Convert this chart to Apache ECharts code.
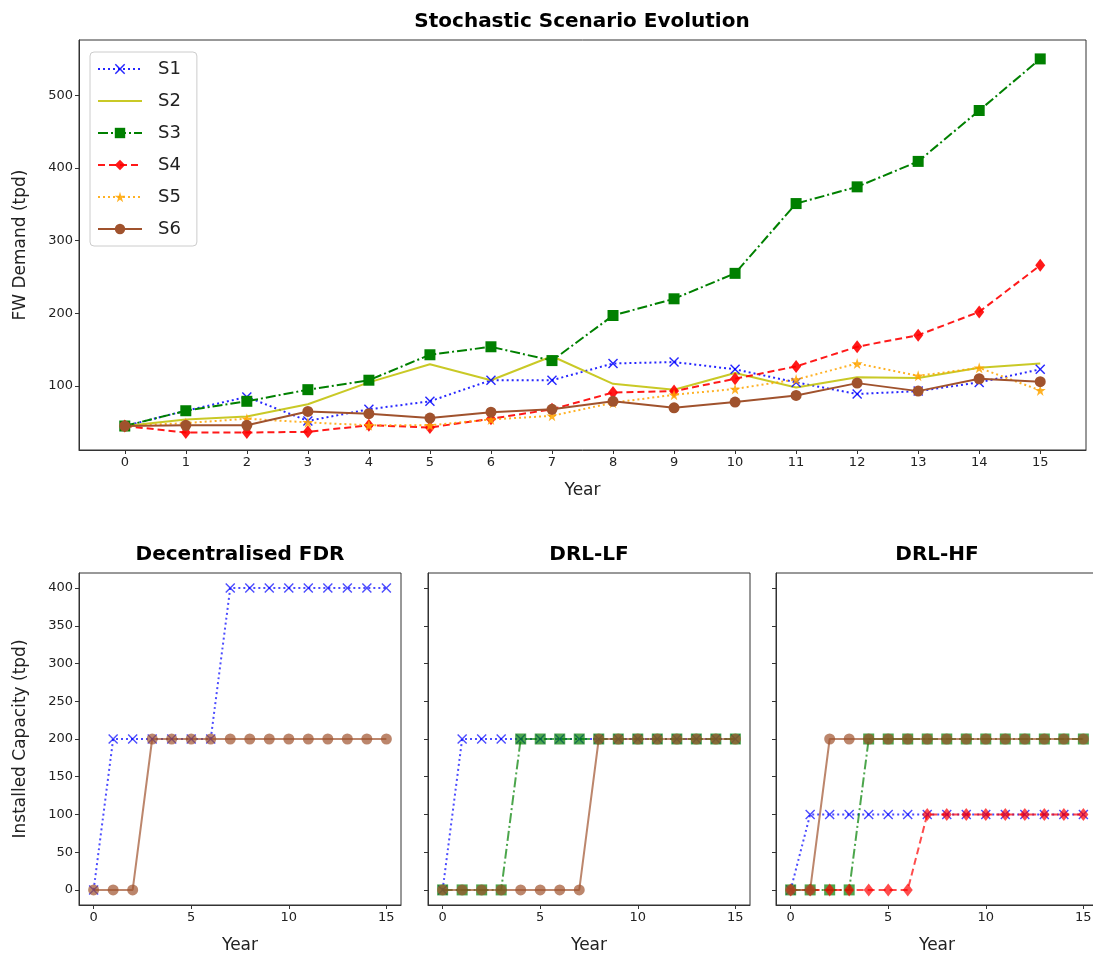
<!DOCTYPE html>
<html>
<head>
<meta charset="utf-8">
<script src="https://cdn.jsdelivr.net/npm/echarts@6/dist/echarts.min.js"></script>
<style>
  html, body { margin: 0; padding: 0; background: #fff; }
  #chart { width: 1093px; height: 956px; }
</style>
</head>
<body>
<div id="chart"></div>
<script>
// ---------------- DATA ----------------
const years = [0,1,2,3,4,5,6,7,8,9,10,11,12,13,14,15];
const scenarioNames = ['S1','S2','S3','S4','S5','S6'];

// FW demand (tpd) per scenario
const demandS1 = [45, 66, 85, 52, 68, 79, 108, 108, 131, 133, 123, 105, 89, 93, 105, 123];
const demandS2 = [45, 54, 58, 75, 105, 130, 108, 141, 103, 95, 118, 98, 112, 111, 125, 131];
const demandS3 = [45, 66, 79, 95, 108, 143, 154, 135, 197, 220, 255, 351, 374, 409, 479, 550];
const demandS4 = [45, 36, 36, 37, 46, 43, 55, 68, 91, 93, 110, 127, 154, 170, 202, 266];
const demandS5 = [45, 49, 55, 50, 46, 46, 54, 59, 77, 88, 96, 109, 131, 114, 125, 94];
const demandS6 = [45, 46, 46, 65, 62, 56, 64, 68, 79, 70, 78, 87, 104, 93, 110, 106];

// Installed capacity (tpd) — Decentralised FDR
const fdrS1 = [0, 200, 200, 200, 200, 200, 200, 400, 400, 400, 400, 400, 400, 400, 400, 400];
const fdrS6 = [0, 0, 0, 200, 200, 200, 200, 200, 200, 200, 200, 200, 200, 200, 200, 200];
// DRL-LF
const lfS1 = [0, 200, 200, 200, 200, 200, 200, 200, 200, 200, 200, 200, 200, 200, 200, 200];
const lfS3 = [0, 0, 0, 0, 200, 200, 200, 200, 200, 200, 200, 200, 200, 200, 200, 200];
const lfS6 = [0, 0, 0, 0, 0, 0, 0, 0, 200, 200, 200, 200, 200, 200, 200, 200];
// DRL-HF
const hfS1 = [0, 100, 100, 100, 100, 100, 100, 100, 100, 100, 100, 100, 100, 100, 100, 100];
const hfS3 = [0, 0, 0, 0, 200, 200, 200, 200, 200, 200, 200, 200, 200, 200, 200, 200];
const hfS4 = [0, 0, 0, 0, 0, 0, 0, 100, 100, 100, 100, 100, 100, 100, 100, 100];
const hfS6 = [0, 0, 200, 200, 200, 200, 200, 200, 200, 200, 200, 200, 200, 200, 200, 200];

// tick labels
const topXTicks = [0,1,2,3,4,5,6,7,8,9,10,11,12,13,14,15];
const topYTicks = [100, 200, 300, 400, 500];
const botXTicks = [0, 5, 10, 15];
const botYTicks = [0, 50, 100, 150, 200, 250, 300, 350, 400];

const mainTitle = 'Stochastic Scenario Evolution';
const panelTitles = ['Decentralised FDR', 'DRL-LF', 'DRL-HF'];

// ---------------- STYLES ----------------
const FONT = 'DejaVu Sans';
const XMARK = 'path://M1,0 L5,4 L9,0 L10,1 L6,5 L10,9 L9,10 L5,6 L1,10 L0,9 L4,5 L0,1 Z';
const STAR = 'path://M50,0 L61,35 L98,35 L68,57 L79,91 L50,70 L21,91 L32,57 L2,35 L39,35 Z';

const styles = {
  S1: { color: '#0000ff', type: [2, 3], symbol: XMARK, size: 10 },
  S2: { color: '#bfbf00', type: 'solid', symbol: 'none', size: 0 },
  S3: { color: '#008000', type: [10, 3, 2, 3], symbol: 'rect', size: 11 },
  S4: { color: '#ff0000', type: [7, 4], symbol: 'diamond', size: [10, 13] },
  S5: { color: '#ffa500', type: [2, 3], symbol: STAR, size: 11 },
  S6: { color: '#a0522d', type: 'solid', symbol: 'circle', size: 11 }
};

function mkSeries(name, key, data, axisIdx, opacity) {
  const s = styles[key];
  return {
    name: name,
    type: 'line',
    xAxisIndex: axisIdx,
    yAxisIndex: axisIdx,
    data: years.map((y, i) => [y, data[i]]),
    symbol: s.symbol,
    symbolSize: s.size,
    showSymbol: s.symbol !== 'none',
    animation: false,
    lineStyle: { color: s.color, width: 2, type: s.type, opacity: opacity },
    itemStyle: { color: s.color, opacity: opacity, borderWidth: 0 },
    emphasis: { disabled: true }
  };
}

const grids = [
  { left: 79, top: 40, width: 1007, height: 410 },
  { left: 79, top: 573, width: 322, height: 332 },
  { left: 428, top: 573, width: 322, height: 332 },
  { left: 776, top: 573, width: 322, height: 332 }
].map(g => Object.assign(g, { show: true, borderColor: '#333', borderWidth: 1, containLabel: false, outerBoundsMode: 'none' }));

const axisCommon = {
  type: 'value',
  splitLine: { show: false },
  axisLine: { show: true, onZero: false, lineStyle: { color: '#333', width: 1 } },
  axisTick: { show: true, length: 4, inside: false, lineStyle: { color: '#333' } },
  axisLabel: { color: '#222', fontFamily: FONT, fontSize: 13, margin: 6 },
  nameTextStyle: { color: '#222', fontFamily: FONT, fontSize: 17 }
};

function xAx(gi, ticks) {
  return Object.assign({}, axisCommon, {
    gridIndex: gi, min: -0.75, max: 15.75,
    axisTick: Object.assign({}, axisCommon.axisTick, { customValues: ticks }),
    axisLabel: Object.assign({}, axisCommon.axisLabel, { customValues: ticks }),
    name: 'Year', nameLocation: 'middle', nameGap: 32
  });
}
function yAx(gi, min, max, ticks, showLabels, name) {
  return Object.assign({}, axisCommon, {
    gridIndex: gi, min: min, max: max,
    axisTick: Object.assign({}, axisCommon.axisTick, { customValues: ticks }),
    axisLabel: Object.assign({}, axisCommon.axisLabel, { customValues: ticks, show: showLabels }),
    name: name || '', nameLocation: 'middle', nameGap: 50
  });
}

const series = [
  mkSeries('S1', 'S1', demandS1, 0, 0.85),
  mkSeries('S2', 'S2', demandS2, 0, 0.85),
  mkSeries('S3', 'S3', demandS3, 0, 1),
  mkSeries('S4', 'S4', demandS4, 0, 0.9),
  mkSeries('S5', 'S5', demandS5, 0, 0.85),
  mkSeries('S6', 'S6', demandS6, 0, 1),

  mkSeries('FDR S1', 'S1', fdrS1, 1, 0.7),
  mkSeries('FDR S6', 'S6', fdrS6, 1, 0.7),

  mkSeries('LF S1', 'S1', lfS1, 2, 0.7),
  mkSeries('LF S3', 'S3', lfS3, 2, 0.7),
  mkSeries('LF S6', 'S6', lfS6, 2, 0.7),

  mkSeries('HF S1', 'S1', hfS1, 3, 0.7),
  mkSeries('HF S3', 'S3', hfS3, 3, 0.7),
  mkSeries('HF S4', 'S4', hfS4, 3, 0.7),
  mkSeries('HF S6', 'S6', hfS6, 3, 0.7)
];

const titleCenters = [[582, 22], [240, 555], [589, 555], [937, 555]];
const titleTexts = [mainTitle].concat(panelTitles);
const graphics = titleTexts.map((t, i) => ({
  type: 'text',
  x: titleCenters[i][0],
  y: titleCenters[i][1],
  silent: true,
  style: {
    text: t,
    font: 'bold 20px "' + FONT + '"',
    fill: '#000',
    align: 'center',
    verticalAlign: 'middle'
  }
}));

const legendData = scenarioNames.map(n => n === 'S2' ? { name: n, itemStyle: { opacity: 0 } } : { name: n });

const option = {
  backgroundColor: '#fff',
  animation: false,
  textStyle: { fontFamily: FONT },
  grid: grids,
  xAxis: [
    xAx(0, topXTicks),
    xAx(1, botXTicks),
    xAx(2, botXTicks),
    xAx(3, botXTicks)
  ],
  yAxis: [
    yAx(0, 12, 576, topYTicks, true, 'FW Demand (tpd)'),
    yAx(1, -20, 420, botYTicks, true, 'Installed Capacity (tpd)'),
    yAx(2, -20, 420, botYTicks, false, ''),
    yAx(3, -20, 420, botYTicks, false, '')
  ],
  legend: {
    data: legendData,
    orient: 'vertical',
    left: 90,
    top: 52,
    itemWidth: 44,
    itemHeight: 13,
    itemGap: 14,
    padding: [8, 16, 8, 7],
    borderColor: '#cccccc',
    borderWidth: 1,
    borderRadius: 4,
    backgroundColor: 'rgba(255,255,255,0.8)',
    textStyle: { fontFamily: FONT, fontSize: 18, color: '#222', padding: [0, 0, 0, 11] },
    selectedMode: false
  },
  graphic: graphics,
  series: series
};

const chart = echarts.init(document.getElementById('chart'), null, { renderer: 'canvas' });
chart.setOption(option);
</script>
</body>
</html>
